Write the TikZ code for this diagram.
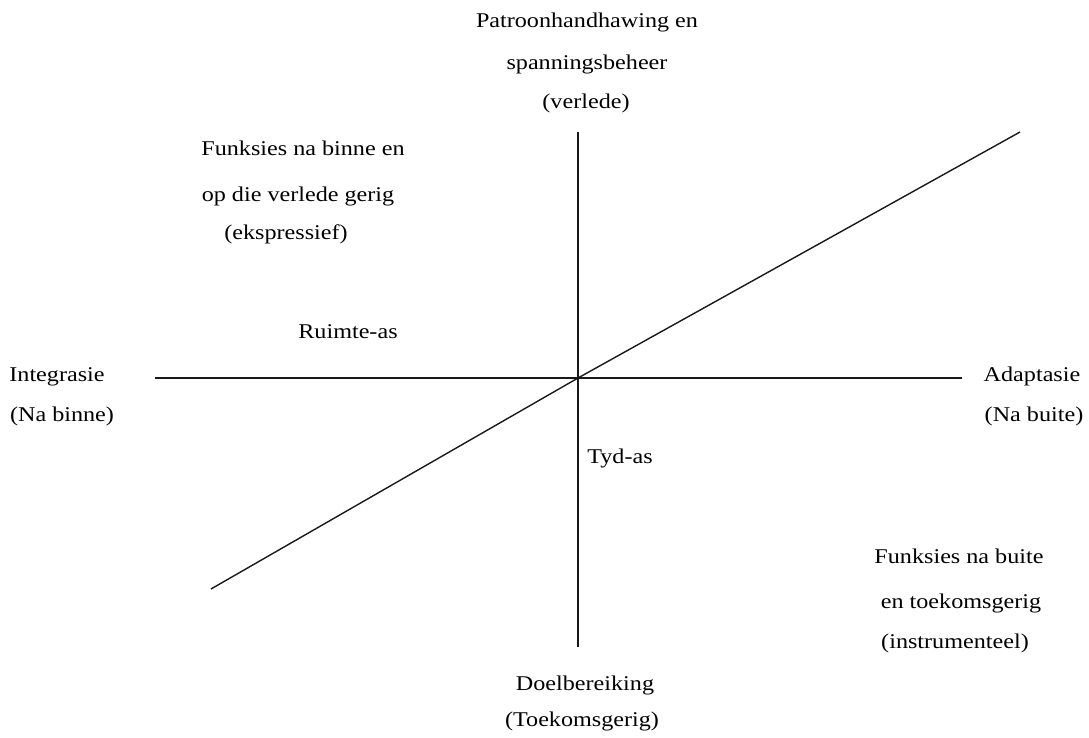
\documentclass[tikz,border=0pt]{standalone}
\usepackage{fontspec}
\setmainfont[FakeStretch=1.15]{Liberation Serif}
\begin{document}
\begin{tikzpicture}[x=1pt,y=-1pt,
  lbl/.style={anchor=base,inner sep=0pt,font=\fontsize{21}{25}\selectfont,text=black},
  axis/.style={line width=1.4pt,draw=black!90}]
\useasboundingbox (0,0) rectangle (1089,738);
% axis end points
\coordinate (c) at (578,378);
\coordinate (vtop) at (578,132);
\coordinate (vbot) at (578,647);
\coordinate (hl) at (155,378);
\coordinate (hr) at (962,378);
\coordinate (dl) at (211,589);
\coordinate (dr) at (1020,132);
\draw[axis] (vtop) -- (c) -- (vbot);
\draw[axis] (hl) -- (c) -- (hr);
\draw[axis] (dl) -- (c) -- (dr);
% labels
\node[lbl] (t1) at (587,28) {Patroonhandhawing en};
\node[lbl] (t2) at (587,70) {spanningsbeheer};
\node[lbl] (t3) at (586,109) {(verlede)};
\node[lbl] (f1) at (303,156) {Funksies na binne en};
\node[lbl] (f2) at (298,201) {op die verlede gerig};
\node[lbl] (f3) at (286,239) {(ekspressief)};
\node[lbl] (ruimte) at (348,338) {Ruimte-as};
\node[lbl] (int1) at (57,381) {Integrasie};
\node[lbl] (int2) at (62,421) {(Na binne)};
\node[lbl] (ad1) at (1032,381) {Adaptasie};
\node[lbl] (ad2) at (1034,421) {(Na buite)};
\node[lbl] (tyd) at (620,463) {Tyd-as};
\node[lbl] (g1) at (959,563) {Funksies na buite};
\node[lbl] (g2) at (961,608) {en toekomsgerig};
\node[lbl] (g3) at (955,648) {(instrumenteel)};
\node[lbl] (d1) at (585,690) {Doelbereiking};
\node[lbl] (d2) at (582,726) {(Toekomsgerig)};
\end{tikzpicture}
\end{document}
